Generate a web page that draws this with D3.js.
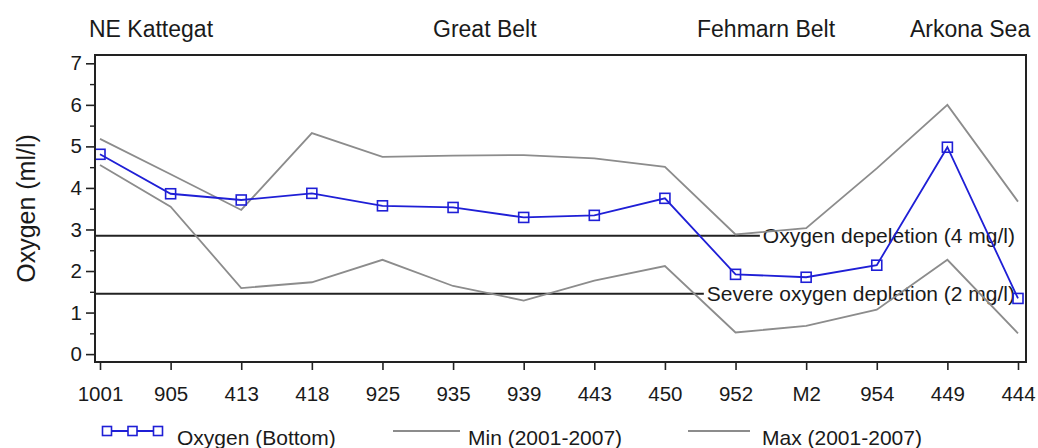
<!DOCTYPE html>
<html>
<head>
<meta charset="utf-8">
<script src="https://cdn.jsdelivr.net/npm/d3@7/dist/d3.min.js"></script>
<style>
  html, body { margin: 0; padding: 0; background: #fff; }
  svg { display: block; font-family: "Liberation Sans", Arial, sans-serif; }
</style>
</head>
<body>
<svg id="chart" width="1038" height="448"></svg>
<script>
// Bottom-water oxygen along the transect, with 2001-2007 range
const stations = ["1001", "905", "413", "418", "925", "935", "939", "443", "450", "952", "M2", "954", "449", "444"];
const oxygenBottom = [4.81, 3.86, 3.71, 3.87, 3.57, 3.53, 3.29, 3.34, 3.75, 1.92, 1.85, 2.14, 4.98, 1.34];
const minRange = [4.55, 3.55, 1.59, 1.73, 2.27, 1.64, 1.29, 1.77, 2.12, 0.52, 0.68, 1.07, 2.27, 0.50];
const maxRange = [5.18, 4.33, 3.47, 5.32, 4.75, 4.78, 4.79, 4.71, 4.51, 2.88, 3.03, 4.47, 6.00, 3.67];

const yTicks = [0, 1, 2, 3, 4, 5, 6, 7];
const yMinorTicks = [0.5, 1.5, 2.5, 3.5, 4.5, 5.5, 6.5];

const regions = [
  { name: "NE Kattegat", x: 89 },
  { name: "Great Belt", x: 433 },
  { name: "Fehmarn Belt", x: 697 },
  { name: "Arkona Sea", x: 910 }
];

const thresholds = [
  { value: 2.85, label: "Oxygen depeletion (4 mg/l)" },
  { value: 1.45, label: "Severe oxygen depletion (2 mg/l)" }
];

const legendItems = [
  { label: "Oxygen (Bottom)", kind: "oxygen" },
  { label: "Min (2001-2007)", kind: "range" },
  { label: "Max (2001-2007)", kind: "range" }
];

const svg = d3.select("#chart");
const frame = { left: 95, right: 1026, top: 55, bottom: 362 };
const textColor = "#1a1a1a";
const blue = "#1f1fd6";
const grey = "#8c8c8c";

const x = d3.scalePoint().domain(stations).range([100, 1018]);
const y = d3.scaleLinear().domain([-0.19, 7.2]).range([frame.bottom, frame.top]);

// Region names above the plot
svg.append("g").selectAll("text").data(regions).join("text")
  .attr("x", d => d.x).attr("y", 37)
  .attr("font-size", 23).attr("fill", textColor)
  .text(d => d.name);

// Y axis: major ticks with labels, minor half-unit ticks
const yAxis = svg.append("g").attr("transform", `translate(${frame.left},0)`)
  .call(d3.axisLeft(y).tickValues(yTicks).tickSize(9).tickPadding(4).tickFormat(d3.format("d")));
yAxis.select(".domain").remove();
yAxis.selectAll("text").attr("font-size", 20.5).attr("fill", textColor).attr("font-family", "Liberation Sans, Arial, sans-serif");
yAxis.selectAll("line").attr("stroke", "#222").attr("stroke-width", 1.6);

const yMinor = svg.append("g").attr("transform", `translate(${frame.left},0)`)
  .call(d3.axisLeft(y).tickValues(yMinorTicks).tickSize(5).tickFormat(""));
yMinor.select(".domain").remove();
yMinor.selectAll("line").attr("stroke", "#222").attr("stroke-width", 1.4);

// X axis with station labels
const xAxis = svg.append("g").attr("transform", `translate(0,${frame.bottom})`)
  .call(d3.axisBottom(x).tickSize(8).tickPadding(16));
xAxis.select(".domain").remove();
xAxis.selectAll("text").attr("font-size", 20.5).attr("fill", textColor).attr("font-family", "Liberation Sans, Arial, sans-serif");
xAxis.selectAll("line").attr("stroke", "#222").attr("stroke-width", 1.6);

// Y axis title
svg.append("text")
  .attr("transform", `translate(35,${(frame.top + frame.bottom) / 2}) rotate(-90)`)
  .attr("text-anchor", "middle")
  .attr("font-size", 25).attr("fill", textColor)
  .text("Oxygen (ml/l)");

// Threshold lines and their labels
const thrG = svg.append("g");
thresholds.forEach(t => {
  const lbl = thrG.append("text")
    .attr("x", 1015).attr("y", y(t.value) + 7)
    .attr("text-anchor", "end")
    .attr("font-size", 21).attr("fill", textColor)
    .text(t.label);
  const start = lbl.node().getComputedTextLength();
  thrG.append("line")
    .attr("x1", frame.left).attr("x2", 1015 - start - 3)
    .attr("y1", y(t.value)).attr("y2", y(t.value))
    .attr("stroke", "#222").attr("stroke-width", 2);
});

// Min and max envelopes
const line = d3.line().x((d, i) => x(stations[i])).y(d => y(d));
[minRange, maxRange].forEach(series => {
  svg.append("path").datum(series)
    .attr("d", line).attr("fill", "none")
    .attr("stroke", grey).attr("stroke-width", 1.8);
});

// Bottom oxygen series with square markers
svg.append("path").datum(oxygenBottom)
  .attr("d", line).attr("fill", "none")
  .attr("stroke", blue).attr("stroke-width", 1.8);

const sq = 10;
svg.append("g").selectAll("rect").data(oxygenBottom).join("rect")
  .attr("x", (d, i) => x(stations[i]) - sq / 2)
  .attr("y", d => y(d) - sq / 2)
  .attr("width", sq).attr("height", sq)
  .attr("fill", "none").attr("stroke", blue).attr("stroke-width", 1.6);

// Plot frame
svg.append("rect")
  .attr("x", frame.left).attr("y", frame.top)
  .attr("width", frame.right - frame.left).attr("height", frame.bottom - frame.top)
  .attr("fill", "none").attr("stroke", "#222").attr("stroke-width", 2);

// Legend
const legendPos = [
  { x1: 102, x2: 163, tx: 177 },
  { x1: 393, x2: 460, tx: 468 },
  { x1: 688, x2: 750, tx: 762 }
];
const legendY = 431;
const lg = svg.append("g");
legendItems.forEach((item, i) => {
  const p = legendPos[i];
  lg.append("line")
    .attr("x1", p.x1).attr("x2", p.x2).attr("y1", legendY).attr("y2", legendY)
    .attr("stroke", item.kind === "oxygen" ? blue : grey).attr("stroke-width", 1.8);
  if (item.kind === "oxygen") {
    [p.x1 + 5, (p.x1 + p.x2) / 2, p.x2 - 5].forEach(cx => {
      lg.append("rect")
        .attr("x", cx - 4.5).attr("y", legendY - 4.5)
        .attr("width", 9).attr("height", 9)
        .attr("fill", "#fff").attr("stroke", blue).attr("stroke-width", 1.6);
    });
  }
  lg.append("text")
    .attr("x", p.tx).attr("y", 445)
    .attr("font-size", 21).attr("fill", textColor)
    .text(item.label);
});
</script>
</body>
</html>
